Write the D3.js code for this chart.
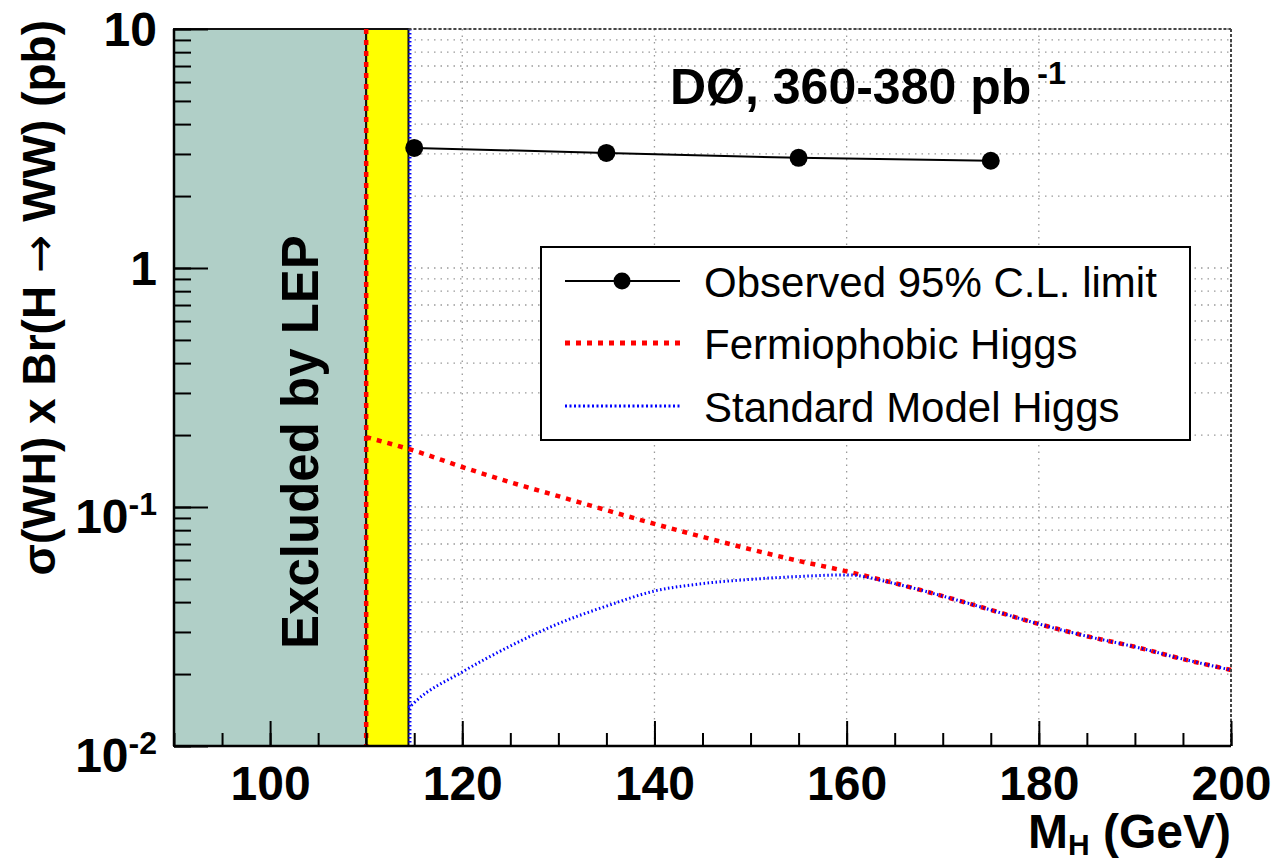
<!DOCTYPE html>
<html>
<head>
<meta charset="utf-8">
<script src="https://cdn.jsdelivr.net/npm/d3@7"></script>
<style>
body { margin: 0; background: #fff; }
svg { display: block; font-family: "Liberation Sans", Arial, Helvetica, sans-serif; }
</style>
</head>
<body>
<div id="chart"></div>
<script>
var w = 1276;
var h = 866;

// observed 95% CL limit
var obsMass = [115, 135, 155, 175];
var obsLimit = [3.18, 3.03, 2.89, 2.81];

// fermiophobic higgs sigma x BR
var fpMass = [110, 115, 120, 125, 130, 135, 140, 145, 150, 155, 160, 165, 170, 175, 180, 185, 190, 195, 200];
var fpXsec = [0.196, 0.172, 0.147, 0.127, 0.111, 0.097, 0.085, 0.075, 0.0665, 0.0595, 0.0538, 0.048, 0.0424, 0.0371, 0.0324, 0.0288, 0.026, 0.0231, 0.0208];

// standard model higgs sigma x BR
var smMass = [114.4, 115, 120, 125, 130, 135, 140, 145, 150, 155, 160, 165, 170, 175, 180, 185, 190, 195, 200];
var smXsec = [0.0144, 0.0152, 0.0204, 0.0262, 0.0325, 0.0385, 0.0445, 0.0478, 0.0498, 0.0512, 0.052, 0.0478, 0.0424, 0.0371, 0.0324, 0.0288, 0.026, 0.0231, 0.0208];

var fpBound = 110;   // fermiophobic LEP limit
var lepBound = 114.4; // SM LEP limit

var xMajor = [100, 120, 140, 160, 180, 200];
var yMajor = [10, 1, 0.1, 0.01];
var yBase = ["10", "1", "10", "10"];
var yExp = ["", "", "-1", "-2"];
var legendLabels = ["Observed 95% C.L. limit", "Fermiophobic Higgs", "Standard Model Higgs"];

var x = d3.scaleLinear().domain([90, 200]).range([174, 1231]);
var y = d3.scaleLog().domain([0.01, 10]).range([746, 29]);

var svg = d3.select("#chart")
    .append("svg")
    .attr("width", w)
    .attr("height", h);

svg.append("rect").attr("width", w).attr("height", h).attr("fill", "#fff");

// grid
var grid = svg.append("g")
    .attr("stroke", "#9a9a9a")
    .attr("stroke-width", 1.3)
    .attr("stroke-dasharray", "1.5,5");

grid.selectAll("line.h")
    .data(y.ticks())
    .enter()
    .append("line")
    .attr("x1", x(90))
    .attr("x2", x(200))
    .attr("y1", function(d) { return y(d); })
    .attr("y2", function(d) { return y(d); });

grid.selectAll("line.v")
    .data(xMajor)
    .enter()
    .append("line")
    .attr("x1", function(d) { return x(d); })
    .attr("x2", function(d) { return x(d); })
    .attr("y1", y(10))
    .attr("y2", y(0.01));

// excluded regions
svg.append("rect")
    .attr("x", x(90))
    .attr("y", y(10))
    .attr("width", x(fpBound) - x(90))
    .attr("height", y(0.01) - y(10))
    .attr("fill", "#b0cfc7")
    .attr("stroke", "#111")
    .attr("stroke-width", 2);

svg.append("rect")
    .attr("x", x(fpBound))
    .attr("y", y(10))
    .attr("width", x(lepBound) - x(fpBound))
    .attr("height", y(0.01) - y(10))
    .attr("fill", "#ffff00")
    .attr("stroke", "#111")
    .attr("stroke-width", 2);

svg.append("line")
    .attr("x1", x(fpBound)).attr("x2", x(fpBound))
    .attr("y1", y(10)).attr("y2", y(0.01))
    .attr("stroke", "#ff0000")
    .attr("stroke-width", 4.5)
    .attr("stroke-dasharray", "5,6");

svg.append("line")
    .attr("x1", x(lepBound) + 1.5).attr("x2", x(lepBound) + 1.5)
    .attr("y1", y(10)).attr("y2", y(0.01))
    .attr("stroke", "#0000ff")
    .attr("stroke-width", 3)
    .attr("stroke-dasharray", "1.5,2.5");

svg.append("text")
    .attr("transform", "translate(318," + 442 + ") rotate(-90)")
    .attr("text-anchor", "middle")
    .attr("font-size", 51)
    .attr("font-weight", "bold")
    .text("Excluded by LEP");

// curves
var line = d3.line()
    .x(function(d) { return x(d[0]); })
    .y(function(d) { return y(d[1]); });

var smooth = d3.line()
    .curve(d3.curveMonotoneX)
    .x(function(d) { return x(d[0]); })
    .y(function(d) { return y(d[1]); });

svg.append("path")
    .datum(d3.zip(fpMass, fpXsec))
    .attr("d", smooth)
    .attr("fill", "none")
    .attr("stroke", "#ff0000")
    .attr("stroke-width", 4.5)
    .attr("stroke-dasharray", "5,6");

svg.append("path")
    .datum(d3.zip(smMass, smXsec))
    .attr("d", smooth)
    .attr("fill", "none")
    .attr("stroke", "#0000ff")
    .attr("stroke-width", 3)
    .attr("stroke-dasharray", "1.5,2.5");

var obs = d3.zip(obsMass, obsLimit);
svg.append("path")
    .datum(obs)
    .attr("d", line)
    .attr("fill", "none")
    .attr("stroke", "#000")
    .attr("stroke-width", 2);

svg.selectAll("circle.obs")
    .data(obs)
    .enter()
    .append("circle")
    .attr("cx", function(d) { return x(d[0]); })
    .attr("cy", function(d) { return y(d[1]); })
    .attr("r", 9)
    .attr("fill", "#000");

// frame: top/right dotted like the grid over it, left/bottom solid
svg.append("line")
    .attr("x1", x(lepBound)).attr("x2", x(200))
    .attr("y1", y(10)).attr("y2", y(10))
    .attr("stroke", "#444").attr("stroke-width", 2).attr("stroke-dasharray", "3,2");
svg.append("line")
    .attr("x1", x(200)).attr("x2", x(200))
    .attr("y1", y(10)).attr("y2", y(0.01))
    .attr("stroke", "#444").attr("stroke-width", 2).attr("stroke-dasharray", "3,2");
svg.append("line")
    .attr("x1", x(90)).attr("x2", x(90))
    .attr("y1", y(10)).attr("y2", y(0.01))
    .attr("stroke", "#000").attr("stroke-width", 2.5);
svg.append("line")
    .attr("x1", x(90)).attr("x2", x(200))
    .attr("y1", y(0.01)).attr("y2", y(0.01))
    .attr("stroke", "#000").attr("stroke-width", 2.5);

// x axis ticks (inward)
var xMinorAxis = d3.axisBottom(x).tickValues(d3.range(90, 201, 5)).tickSize(-13).tickFormat("");
var xMajorAxis = d3.axisBottom(x).tickValues(xMajor).tickSize(-25).tickPadding(20);

var gx1 = svg.append("g").attr("transform", "translate(0," + y(0.01) + ")").call(xMinorAxis);
var gx2 = svg.append("g").attr("transform", "translate(0," + y(0.01) + ")").call(xMajorAxis);
gx1.select(".domain").remove();
gx2.select(".domain").remove();
svg.selectAll(".tick line").attr("stroke", "#000").attr("stroke-width", 2);
gx2.selectAll("text")
    .attr("font-size", 48)
    .attr("font-weight", "bold")
    .attr("font-family", "'Liberation Sans', Arial, sans-serif")
    .attr("fill", "#000");

// y axis ticks (inward)
var yMinorAxis = d3.axisLeft(y).tickValues(y.ticks()).tickSize(-17).tickFormat("");
var yMajorAxis = d3.axisLeft(y).tickValues(yMajor).tickSize(-34).tickFormat("");
var gy1 = svg.append("g").attr("transform", "translate(" + x(90) + ",0)").call(yMinorAxis);
var gy2 = svg.append("g").attr("transform", "translate(" + x(90) + ",0)").call(yMajorAxis);
gy1.select(".domain").remove();
gy2.select(".domain").remove();
svg.selectAll(".tick line").attr("stroke", "#000").attr("stroke-width", 2);

// y tick labels with exponents
yMajor.forEach(function(v, i) {
    var t = svg.append("text")
        .attr("x", 157)
        .attr("y", y(v) + 17 + (yExp[i] ? 9 : 0))
        .attr("text-anchor", "end")
        .attr("font-size", 48)
        .attr("font-weight", "bold");
    t.append("tspan").text(yBase[i]);
    if (yExp[i]) {
        t.append("tspan").attr("font-size", 32).attr("dy", -18).text(yExp[i]);
    }
});

// axis titles
var xt = svg.append("text")
    .attr("x", x(200))
    .attr("y", 848)
    .attr("text-anchor", "end")
    .attr("font-size", 48)
    .attr("font-weight", "bold");
xt.append("tspan").text("M");
xt.append("tspan").attr("font-size", 30).attr("dy", 7).text("H");
xt.append("tspan").attr("dy", -7).text(" (GeV)");

var yt = svg.append("text")
    .attr("transform", "translate(55,20) rotate(-90)")
    .attr("text-anchor", "end")
    .attr("font-size", 46)
    .attr("font-weight", "bold");
yt.append("tspan").text("\u03c3(WH) x Br(H ");
yt.append("tspan")
    .attr("font-family", "'DejaVu Sans', sans-serif")
    .attr("font-weight", "normal")
    .text("\u2192");
yt.append("tspan").text(" WW) (pb)");

// experiment label
var lab = svg.append("text")
    .attr("x", 670)
    .attr("y", 104)
    .attr("font-size", 50)
    .attr("font-weight", "bold");
lab.append("tspan").text("D\u00d8, 360-380 pb");
lab.append("tspan").attr("font-size", 32).attr("dx", 6).attr("dy", -20).text("-1");

// legend
var lg = svg.append("g");
lg.append("rect")
    .attr("x", 541).attr("y", 247)
    .attr("width", 649).attr("height", 193)
    .attr("fill", "#fff")
    .attr("stroke", "#000")
    .attr("stroke-width", 2);

var rowY = [281, 343, 406];
lg.append("line").attr("x1", 565).attr("x2", 680).attr("y1", rowY[0]).attr("y2", rowY[0])
    .attr("stroke", "#000").attr("stroke-width", 2);
lg.append("circle").attr("cx", 622).attr("cy", rowY[0]).attr("r", 8.5).attr("fill", "#000");
lg.append("line").attr("x1", 565).attr("x2", 680).attr("y1", rowY[1]).attr("y2", rowY[1])
    .attr("stroke", "#ff0000").attr("stroke-width", 5).attr("stroke-dasharray", "5,6");
lg.append("line").attr("x1", 565).attr("x2", 680).attr("y1", rowY[2]).attr("y2", rowY[2])
    .attr("stroke", "#0000ff").attr("stroke-width", 3).attr("stroke-dasharray", "2,2.5");

lg.selectAll("text")
    .data(legendLabels)
    .enter()
    .append("text")
    .attr("x", 704)
    .attr("y", function(d, i) { return rowY[i] + 16; })
    .attr("font-size", 42)
    .text(function(d) { return d; });
</script>
</body>
</html>
